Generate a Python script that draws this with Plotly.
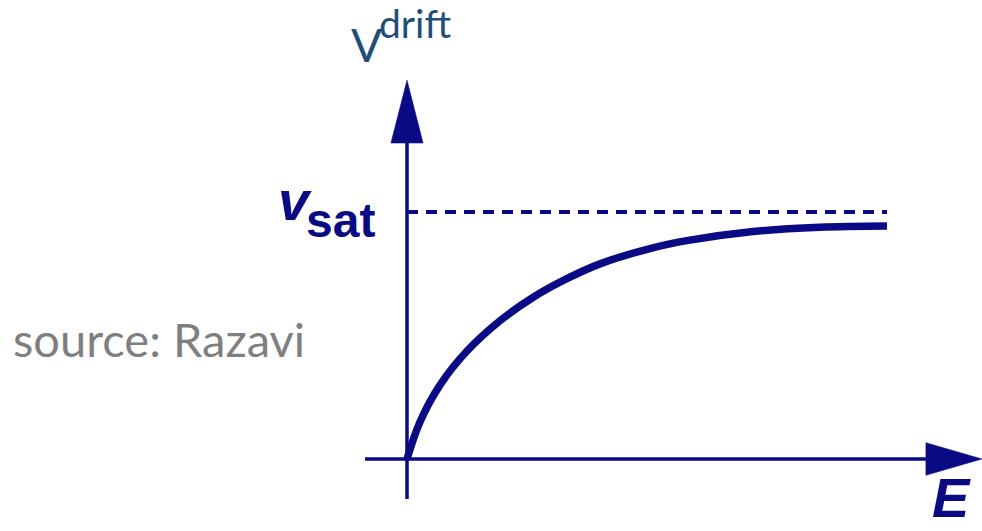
import plotly.graph_objects as go

# Drift velocity vs. electric field (normalised units, v_sat = 1)
E_field = [0.0, 0.27, 0.69, 1.25, 1.94, 2.63, 3.33, 4.02, 5.06, 5.83, 7.21, 8.60, 10.0]
v_drift = [0.0, 0.150, 0.300, 0.437, 0.560, 0.655, 0.730, 0.790, 0.852, 0.884, 0.921, 0.938, 0.943]
v_sat = 1.0
E_max = 10.0

W, H = 982, 531
NAVY = "#0a0a84"

# Axis extents (data units)
X_RANGE = [-8.479, 11.979]
Y_RANGE = [-0.2915, 1.8583]
H_AXIS_START, H_AXIS_HEAD_BASE, H_AXIS_TIP = -0.875, 10.81, 11.98
V_AXIS_START, V_AXIS_HEAD_BASE, V_AXIS_TIP = -0.162, 1.279, 1.534
HEAD_HALF_X = 0.335   # half width of the vertical arrow head (E units)
HEAD_HALF_Y = 0.066   # half height of the horizontal arrow head (v units)


def px(x):
    return x / W


def py(y):
    return 1 - y / H


fig = go.Figure()

# saturation level
fig.add_trace(go.Scatter(
    x=[0, E_max], y=[v_sat, v_sat], mode="lines",
    line=dict(color=NAVY, width=4, dash="11px,8px"),
    hoverinfo="skip", showlegend=False))

# velocity curve
fig.add_trace(go.Scatter(
    x=E_field, y=v_drift, mode="lines",
    line=dict(color=NAVY, width=7.5, shape="spline", smoothing=1.0),
    showlegend=False))

shapes = [
    dict(type="line", x0=H_AXIS_START, x1=H_AXIS_HEAD_BASE, y0=0, y1=0,
         line=dict(color=NAVY, width=3.5), layer="below"),
    dict(type="line", x0=0, x1=0, y0=V_AXIS_START, y1=V_AXIS_HEAD_BASE,
         line=dict(color=NAVY, width=3.5), layer="below"),
    dict(type="path",
         path=f"M {H_AXIS_HEAD_BASE},{-HEAD_HALF_Y} L {H_AXIS_TIP},0 L {H_AXIS_HEAD_BASE},{HEAD_HALF_Y} Z",
         fillcolor=NAVY, line=dict(color=NAVY, width=0.5)),
    dict(type="path",
         path=f"M {-HEAD_HALF_X},{V_AXIS_HEAD_BASE} L 0,{V_AXIS_TIP} L {HEAD_HALF_X},{V_AXIS_HEAD_BASE} Z",
         fillcolor=NAVY, line=dict(color=NAVY, width=0.5)),
]


def label(text, x, y, size, family, color, yanchor="middle"):
    return dict(text=text, x=px(x), y=py(y), xref="paper", yref="paper",
                xanchor="left", yanchor=yanchor, showarrow=False,
                font=dict(size=size, family=family, color=color))


annotations = [
    label("V", 349, 58 - 0.3 * 46, 46, "Lato", "#1f4e79"),
    label("drift", 377, 35 - 0.3 * 39, 39, "Lato", "#1f4e79"),
    label("source: Razavi", 11, 353 - 0.3 * 47, 47, "Lato", "#7f7f7f"),
    label("<b><i>v</i></b>", 276, 217 - 0.3 * 56, 56, "Liberation Sans", NAVY),
    label("<b>sat</b>", 304, 235 - 0.3 * 48, 48, "Liberation Sans", NAVY),
    label("<b><i>E</i></b>", 930, H, 56, "Liberation Sans", NAVY, yanchor="bottom"),
]

fig.update_layout(
    width=W, height=H,
    margin=dict(l=0, r=0, t=0, b=0),
    paper_bgcolor="white", plot_bgcolor="white",
    xaxis=dict(range=X_RANGE, visible=False, fixedrange=True),
    yaxis=dict(range=Y_RANGE, visible=False, fixedrange=True),
    shapes=shapes, annotations=annotations,
    showlegend=False,
)

fig.write_html("out.html", config={"displayModeBar": False})
